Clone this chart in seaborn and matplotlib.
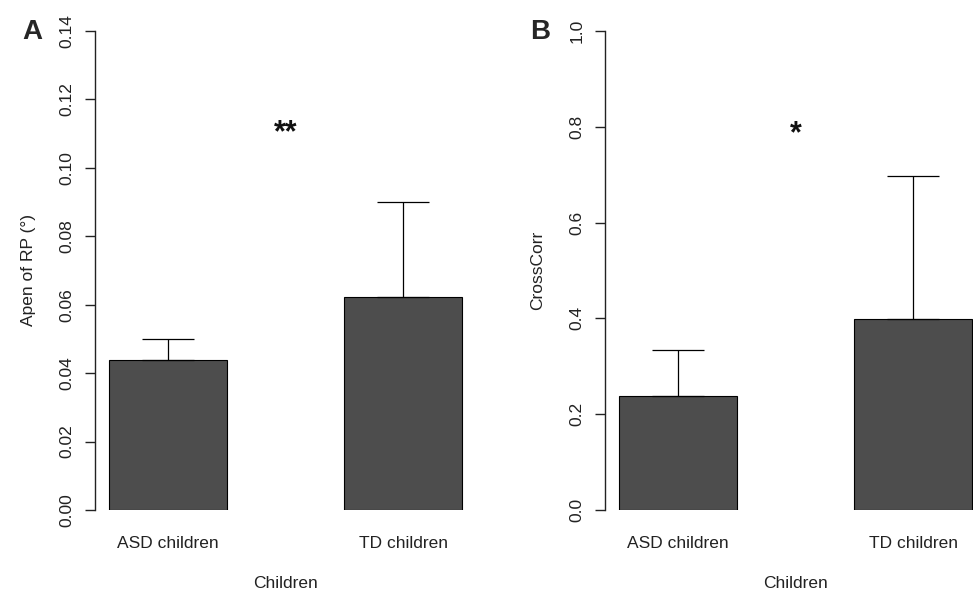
import seaborn as sns
import matplotlib.pyplot as plt

groups = ["ASD children", "TD children"]
apen_mean = [0.0437, 0.0623]
apen_err = [0.0064, 0.0277]
cc_mean = [0.238, 0.399]
cc_err = [0.095, 0.298]

sns.set_style("white")
plt.rcParams['font.family'] = ['Liberation Sans', 'DejaVu Sans']

fig = plt.figure(figsize=(9.73, 5.92), dpi=100)
axA = fig.add_axes([95 / 973, 1 - 510 / 592, 381 / 973, 479 / 592])
axB = fig.add_axes([605 / 973, 1 - 510 / 592, 381 / 973, 479 / 592])


def panel(ax, means, errs, ymax, yticks, ticklabels, ylabel, star, star_y):
    sns.barplot(x=groups, y=means, color='#4d4d4d', saturation=1, width=0.5,
                edgecolor='black', linewidth=0.8, ax=ax)
    ax.errorbar([0, 1], means, yerr=[[0, 0], errs], fmt='none', ecolor='black',
                elinewidth=0.9, capsize=19, capthick=0.9)
    ax.set_xlim(-0.31, 1.31)
    ax.set_ylim(0, ymax)
    ax.set_yticks(yticks)
    ax.set_yticklabels(ticklabels, rotation=90, va='center')
    for s in ['top', 'right', 'bottom']:
        ax.spines[s].set_visible(False)
    ax.spines['left'].set_color('#222222')
    ax.spines['left'].set_linewidth(1.0)
    ax.tick_params(axis='y', length=7, width=1.0, color='#222222', pad=8,
                   labelsize=12.5, left=True, labelcolor='#222222')
    ax.tick_params(axis='x', length=0, pad=19, labelsize=12.5, labelcolor='#222222')
    ax.set_xlabel('Children', fontsize=12.5, labelpad=18, color='#222222')
    ax.set_ylabel(ylabel, fontsize=12.5, labelpad=17, color='#222222')
    ax.text(0.5, star_y, star, ha='center', va='center', fontsize=22,
            fontweight='bold', color='#111111')
    ax.patch.set_alpha(0)


panel(axA, apen_mean, apen_err, 0.14, [0, 0.02, 0.04, 0.06, 0.08, 0.10, 0.12, 0.14],
      ['0.00', '0.02', '0.04', '0.06', '0.08', '0.10', '0.12', '0.14'],
      'Apen of RP (°)', '**', 0.110)
panel(axB, cc_mean, cc_err, 1.0, [0, 0.2, 0.4, 0.6, 0.8, 1.0],
      ['0.0', '0.2', '0.4', '0.6', '0.8', '1.0'],
      'CrossCorr', '*', 0.785)

fig.text(32 / 973, 1 - 32 / 592, 'A', fontsize=20, fontweight='bold', ha='center', va='center')
fig.text(540 / 973, 1 - 32 / 592, 'B', fontsize=20, fontweight='bold', ha='center', va='center')

fig.savefig('out.png', dpi=100)
